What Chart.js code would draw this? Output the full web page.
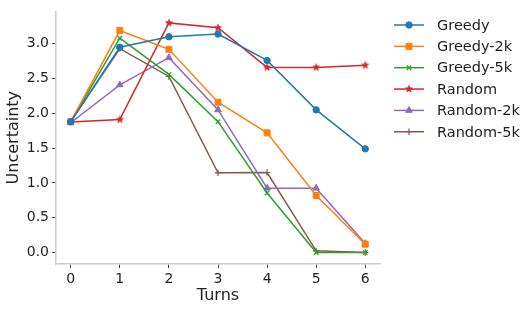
<!DOCTYPE html>
<html><head><meta charset="utf-8">
<script src="https://cdn.jsdelivr.net/npm/chart.js@4"></script>
<style>html,body{margin:0;padding:0;background:#fff}#wrap{width:532px;height:310px}</style>
</head><body><div id="wrap"><canvas id="c" width="532" height="310"></canvas></div>
<script>
const turns = [0, 1, 2, 3, 4, 5, 6];
const greedy    = [1.88, 2.95, 3.10, 3.14, 2.76, 2.05, 1.49];
const greedy2k  = [1.88, 3.19, 2.92, 2.16, 1.72, 0.82, 0.12];
const greedy5k  = [1.88, 3.08, 2.56, 1.88, 0.855, 0.0, 0.0];
const random    = [1.875, 1.91, 3.30, 3.23, 2.66, 2.66, 2.69];
const random2k  = [1.865, 2.41, 2.80, 2.05, 0.925, 0.925, 0.13];
const random5k  = [1.88, 2.93, 2.53, 1.145, 1.15, 0.024, 0.0];
const seriesNames = ['Greedy','Greedy-2k','Greedy-5k','Random','Random-2k','Random-5k'];
const xTicks = [0, 1, 2, 3, 4, 5, 6];
const yTicks = [0.0, 0.5, 1.0, 1.5, 2.0, 2.5, 3.0];

const FONT = "'DejaVu Sans', sans-serif";
const TXT = '#1f1f1f';

function starCanvas(color, r) {
  const s = Math.ceil(r * 2 + 2);
  const cv = document.createElement('canvas');
  cv.width = s; cv.height = s;
  const g = cv.getContext('2d');
  g.fillStyle = color; g.strokeStyle = color; g.lineWidth = 0.8;
  g.beginPath();
  for (let i = 0; i < 10; i++) {
    const a = -Math.PI / 2 + i * Math.PI / 5;
    const rr = i % 2 === 0 ? r : r * 0.42;
    const px = s / 2 + rr * Math.cos(a), py = s / 2 + rr * Math.sin(a);
    i === 0 ? g.moveTo(px, py) : g.lineTo(px, py);
  }
  g.closePath(); g.fill(); g.stroke();
  return cv;
}

const colors = ['#1f77b4','#ff7f0e','#2ca02c','#d62728','#9467bd','#8c564b'];
const styles = [
  {pointStyle:'circle', pointRadius:3.2, pointBorderWidth:1},
  {pointStyle:'rect', pointRadius:4.2, pointBorderWidth:1},
  {pointStyle:'crossRot', pointRadius:3.2, pointBorderWidth:1.3},
  {pointStyle:starCanvas(colors[3], 3.6), pointRadius:4, pointBorderWidth:1},
  {pointStyle:'triangle', pointRadius:3.8, pointBorderWidth:1},
  {pointStyle:'cross', pointRadius:3.2, pointBorderWidth:1.2},
];
const values = [greedy, greedy2k, greedy5k, random, random2k, random5k];

const datasets = values.map((v, i) => ({
  label: seriesNames[i],
  data: turns.map((t, j) => ({x: t, y: v[j]})),
  borderColor: colors[i],
  backgroundColor: colors[i],
  pointBackgroundColor: colors[i],
  pointBorderColor: colors[i],
  borderWidth: 1.5,
  tension: 0,
  ...styles[i],
}));

const legendPlugin = {
  id: 'mplLegend',
  afterDraw(chart) {
    const ctx = chart.ctx;
    ctx.save();
    chart.data.datasets.forEach((ds, i) => {
      const y = 25 + i * 21.35;
      ctx.strokeStyle = ds.borderColor;
      ctx.lineWidth = 1.5;
      ctx.beginPath(); ctx.moveTo(394, y); ctx.lineTo(424, y); ctx.stroke();
      ctx.fillStyle = ds.pointBackgroundColor;
      ctx.strokeStyle = ds.pointBorderColor;
      ctx.lineWidth = ds.pointBorderWidth;
      Chart.helpers.drawPoint(ctx, {pointStyle: ds.pointStyle, radius: ds.pointRadius, rotation: 0, borderWidth: ds.pointBorderWidth}, 409, y);
      ctx.fillStyle = TXT;
      ctx.font = "14.5px " + FONT;
      ctx.textBaseline = 'middle';
      ctx.textAlign = 'left';
      ctx.fillText(ds.label, 437, y + 1);
    });
    ctx.restore();
  }
};

new Chart(document.getElementById('c'), {
  type: 'line',
  data: {datasets},
  plugins: [legendPlugin],
  options: {
    responsive: false,
    animation: false,
    devicePixelRatio: 1,
    layout: {padding: {left: 0, top: 4, right: 152, bottom: 0}},
    plugins: {legend: {display: false}, tooltip: {enabled: false}},
    scales: {
      x: {
        type: 'linear', min: -0.3, max: 6.3,
        afterFit(s) { s.height = 46; },
        afterBuildTicks(s) { s.ticks = xTicks.map(v => ({value: v})); },
        ticks: {color: TXT, font: {family: FONT, size: 14}, padding: 3, callback: v => String(v), maxRotation: 0},
        grid: {display: true, drawOnChartArea: false, drawTicks: true, tickLength: 4, tickColor: '#444', tickWidth: 1},
        border: {display: true, color: '#cccccc', width: 1.5},
        title: {display: true, text: 'Turns', color: TXT, font: {family: FONT, size: 16}, padding: {top: 0, bottom: 5}}
      },
      y: {
        type: 'linear', min: -0.165, max: 3.465,
        afterFit(s) { s.width = 56; },
        afterBuildTicks(s) { s.ticks = yTicks.map(v => ({value: v})); },
        ticks: {color: TXT, font: {family: FONT, size: 14}, padding: 3, callback: v => Number(v).toFixed(1)},
        grid: {display: true, drawOnChartArea: false, drawTicks: true, tickLength: 4, tickColor: '#444', tickWidth: 1},
        border: {display: true, color: '#cccccc', width: 1.5},
        title: {display: true, text: 'Uncertainty', color: TXT, font: {family: FONT, size: 16}, padding: {top: 4, bottom: 0}}
      }
    }
  }
});
</script></body></html>
